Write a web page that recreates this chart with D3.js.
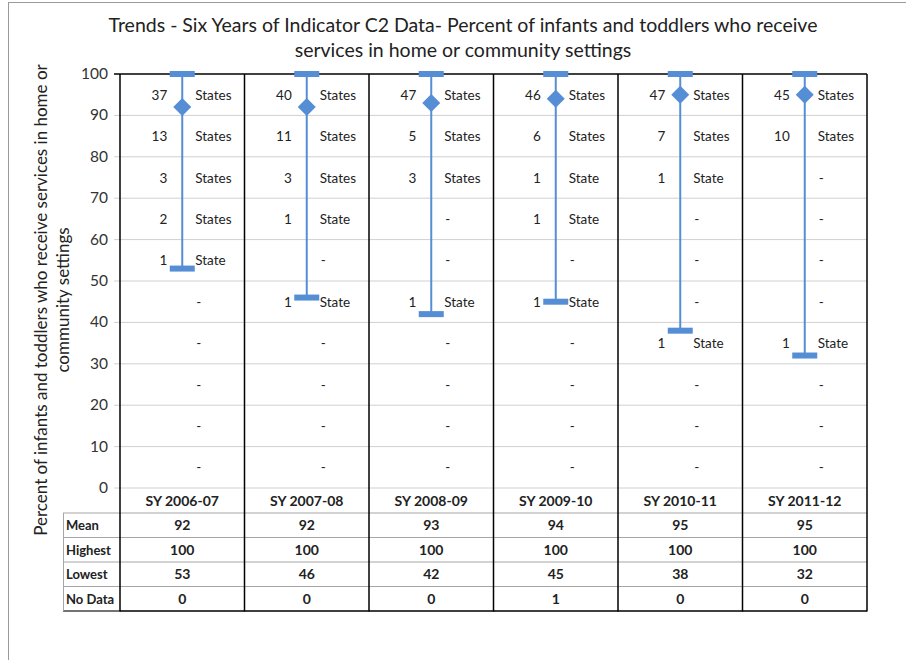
<!DOCTYPE html>
<html>
<head>
<meta charset="utf-8">
<script src="https://cdn.jsdelivr.net/npm/d3@7"></script>
<style>
  body { margin: 0; background: #fff; }
  text { font-family: Lato, "Open Sans", sans-serif; fill: #222; }
</style>
</head>
<body>
<div id="chart"></div>
<script>
var categories = ["SY 2006-07", "SY 2007-08", "SY 2008-09", "SY 2009-10", "SY 2010-11", "SY 2011-12"];
var meanVals = [92, 92, 93, 94, 95, 95];
var highVals = [100, 100, 100, 100, 100, 100];
var lowVals = [53, 46, 42, 45, 38, 32];
var noDataVals = [0, 0, 0, 1, 0, 0];
// number of states in each 10-point band, top band (90-100) first
var bandCounts = [
  [37, 13, 3, 2, 1, 0, 0, 0, 0, 0],
  [40, 11, 3, 1, 0, 1, 0, 0, 0, 0],
  [47, 5, 3, 0, 0, 1, 0, 0, 0, 0],
  [46, 6, 1, 1, 0, 1, 0, 0, 0, 0],
  [47, 7, 1, 0, 0, 0, 1, 0, 0, 0],
  [45, 10, 0, 0, 0, 0, 1, 0, 0, 0]
];
var bandTops = [100, 90, 80, 70, 60, 50, 40, 30, 20, 10];
var yTicks = [0, 10, 20, 30, 40, 50, 60, 70, 80, 90, 100];
var rowLabels = ["Mean", "Highest", "Lowest", "No Data"];

var W = 906, H = 660;
var blue = "#558ed5";

var svg = d3.select("#chart").append("svg")
  .attr("width", W)
  .attr("height", H);

// outer frame
svg.append("rect")
  .attr("x", 8.5).attr("y", 2.5)
  .attr("width", W).attr("height", H)
  .attr("fill", "none").attr("stroke", "#9a9a9a");

var x = d3.scaleBand().domain(categories).range([120, 867]);
var y = d3.scaleLinear().domain([0, 100]).range([488, 74]);

// title
svg.append("text").attr("x", 463).attr("y", 32).attr("text-anchor", "middle")
  .style("font-size", "19.5px").text("Trends - Six Years of Indicator C2 Data- Percent of infants and toddlers who receive");
svg.append("text").attr("x", 463).attr("y", 57).attr("text-anchor", "middle")
  .style("font-size", "19.5px").text("services in home or community settings");

// y axis title
var yt = svg.append("text").attr("transform", "translate(47,300) rotate(-90)")
  .attr("text-anchor", "middle").style("font-size", "17px");
yt.append("tspan").attr("x", 0).attr("dy", 0).text("Percent of infants and toddlers who receive services in home or");
yt.append("tspan").attr("x", 0).attr("dy", 22).text("community settings");

// gridlines
svg.selectAll(".grid").data(yTicks).enter().append("line")
  .attr("x1", 114).attr("x2", 867)
  .attr("y1", function(d) { return y(d); })
  .attr("y2", function(d) { return y(d); })
  .attr("stroke", function(d) { return d === 100 ? "#000" : "#d0d0d0"; })
  .attr("stroke-width", function(d) { return d === 100 ? 1.5 : 1; });

svg.selectAll(".ytick").data(yTicks).enter().append("text")
  .attr("x", 108)
  .attr("y", function(d) { return y(d) + 5; })
  .attr("text-anchor", "end")
  .style("font-size", "15.5px").style("fill", "#333")
  .text(function(d) { return d; });

// table rows
var rowTops = [489, 513, 537.5, 562, 586.5, 611];
svg.selectAll(".trow").data(rowTops.slice(1)).enter().append("line")
  .attr("x1", 63).attr("x2", 867)
  .attr("y1", function(d) { return d; }).attr("y2", function(d) { return d; })
  .attr("stroke", function(d, i) { return i === 4 ? "#000" : "#a6a6a6"; })
  .attr("stroke-width", function(d, i) { return i === 4 ? 1.5 : 1; });
svg.append("line").attr("x1", 63).attr("x2", 120).attr("y1", 611).attr("y2", 611).attr("stroke", "#a6a6a6");
svg.append("line").attr("x1", 63.5).attr("x2", 63.5).attr("y1", 513).attr("y2", 611).attr("stroke", "#a6a6a6");

svg.selectAll(".rlabel").data(rowLabels).enter().append("text")
  .attr("x", 66)
  .attr("y", function(d, i) { return (rowTops[i + 1] + rowTops[i + 2]) / 2 + 5; })
  .style("font-size", "13px").style("font-weight", "bold")
  .text(function(d) { return d; });

// column borders
var borders = categories.map(function(c) { return x(c); }).concat([867]);
svg.selectAll(".vb").data(borders).enter().append("line")
  .attr("x1", function(d) { return d; }).attr("x2", function(d) { return d; })
  .attr("y1", 74).attr("y2", 611.5)
  .attr("stroke", "#000").attr("stroke-width", 1.5);

// category headers and table values
svg.selectAll(".cat").data(categories).enter().append("text")
  .attr("x", function(d) { return x(d) + x.bandwidth() / 2; })
  .attr("y", 506)
  .attr("text-anchor", "middle")
  .style("font-size", "14px").style("font-weight", "bold")
  .text(function(d) { return d; });

var tableData = [meanVals, highVals, lowVals, noDataVals];
tableData.forEach(function(vals, r) {
  svg.selectAll(".tv" + r).data(vals).enter().append("text")
    .attr("x", function(d, i) { return x(categories[i]) + x.bandwidth() / 2; })
    .attr("y", (rowTops[r + 1] + rowTops[r + 2]) / 2 + 5)
    .attr("text-anchor", "middle")
    .style("font-size", "14px").style("font-weight", "bold")
    .text(function(d) { return d; });
});

// whiskers
var cols = svg.selectAll(".col").data(categories).enter().append("g")
  .attr("transform", function(d) { return "translate(" + (x(d) + x.bandwidth() / 2) + ",0)"; });

cols.append("line")
  .attr("y1", function(d, i) { return y(highVals[i]); })
  .attr("y2", function(d, i) { return y(lowVals[i]); })
  .attr("stroke", blue).attr("stroke-width", 2);

cols.append("rect")
  .attr("x", -12.5).attr("width", 25)
  .attr("y", function(d, i) { return y(highVals[i]) - 3; }).attr("height", 6)
  .attr("fill", blue);
cols.append("rect")
  .attr("x", -12.5).attr("width", 25)
  .attr("y", function(d, i) { return y(lowVals[i]) - 3; }).attr("height", 6)
  .attr("fill", blue);

cols.append("path")
  .attr("d", "M0,-9L9,0L0,9L-9,0Z")
  .attr("transform", function(d, i) { return "translate(0," + y(meanVals[i]) + ")"; })
  .attr("fill", blue);

// band counts
cols.each(function(c, i) {
  var g = d3.select(this);
  bandCounts[i].forEach(function(n, b) {
    var yy = y(bandTops[b] - 5) + 5;
    if (n === 0) {
      g.append("text").attr("x", 14).attr("y", yy)
        .style("font-size", "13.5px").text("-");
    } else {
      g.append("text").attr("x", -15).attr("y", yy).attr("text-anchor", "end")
        .style("font-size", "13.5px").text(n);
      g.append("text").attr("x", 13).attr("y", yy)
        .style("font-size", "13.5px").text(n === 1 ? "State" : "States");
    }
  });
});
</script>
</body>
</html>
